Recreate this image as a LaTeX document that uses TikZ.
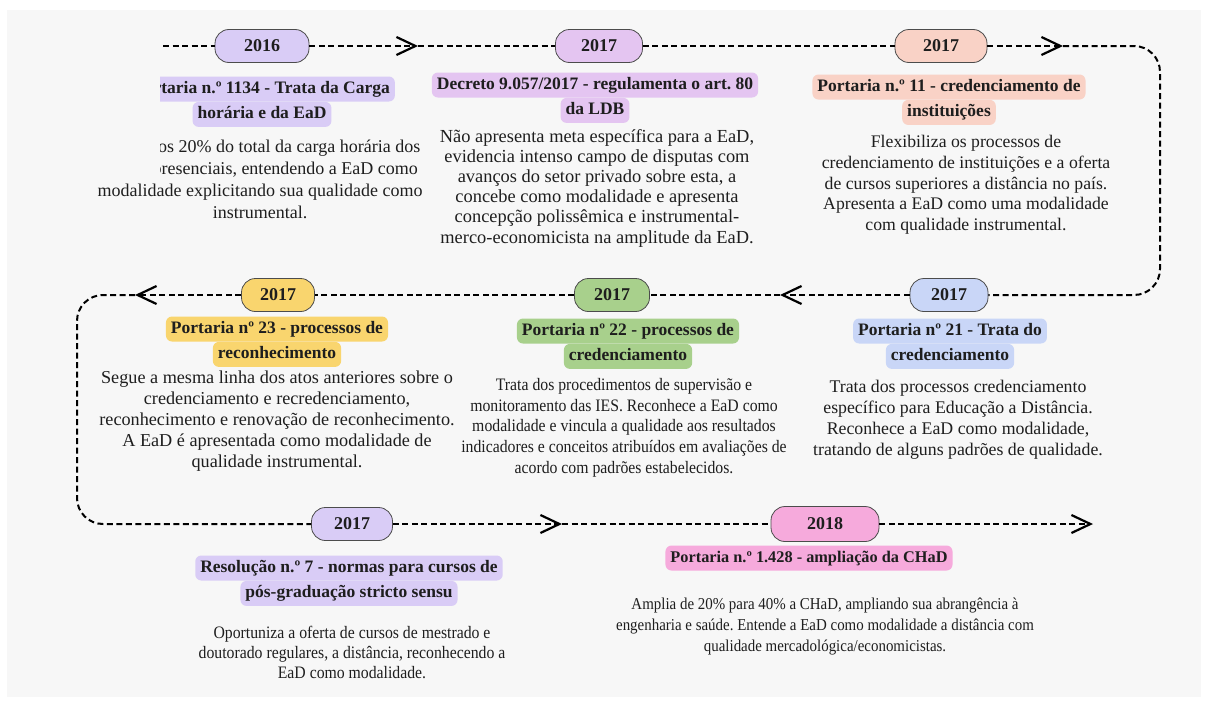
\documentclass[tikz,border=0pt]{standalone}
\usepackage{fontspec}
\setmainfont{Liberation Serif}
\newfontfamily\narrowserif[FakeStretch=0.9]{Liberation Serif}
\usepackage{tikz}
\usetikzlibrary{arrows.meta,positioning}
\frenchspacing

\definecolor{bggrey}{HTML}{F7F7F7}
\definecolor{lilac}{HTML}{D9CCF6}
\definecolor{orchid}{HTML}{E4C5F1}
\definecolor{peach}{HTML}{F9D2C6}
\definecolor{skyblue}{HTML}{C9D6F7}
\definecolor{leaf}{HTML}{A8D08C}
\definecolor{sun}{HTML}{F9D56E}
\definecolor{rose}{HTML}{F6AADC}
\definecolor{ink}{HTML}{1E1E1E}

\begin{document}
\begin{tikzpicture}[x=1pt, y=-1pt,
  flow/.style={line width=2pt, dash pattern=on 6pt off 3.5pt},
  chev/.style={-{Straight Barb[length=19pt,width=18pt,line width=2.2pt]}},
  pill/.style={draw=black!70, line width=0.8pt, rounded corners=14pt, minimum height=33pt,
    inner sep=0pt, font=\fontsize{18}{20}\selectfont\bfseries, text=ink},
  hilite/.style={rounded corners=6pt, inner xsep=5pt, inner ysep=4pt, text height=12.5pt,
    text depth=4.5pt, font=\fontsize{17.5}{20}\selectfont\bfseries, text=ink},
  body/.style={align=center, anchor=north, inner sep=0pt, text=ink}]
\useasboundingbox (0,0) rectangle (1207,704);
\fill[white] (0,0) rectangle (1207,704);
\fill[bggrey] (7,10) rectangle (1201,697);

% anos
\node[pill, fill=lilac, minimum width=94pt] (p1) at (262,46) {2016};
\node[pill, fill=orchid, minimum width=87pt] (p2) at (599,46) {2017};
\node[pill, fill=peach, minimum width=92pt] (p3) at (941,46) {2017};
\node[pill, fill=skyblue, minimum width=78pt] (p4) at (949,295) {2017};
\node[pill, fill=leaf, minimum width=75pt] (p5) at (612,295) {2017};
\node[pill, fill=sun, minimum width=73pt] (p6) at (278,295) {2017};
\node[pill, fill=lilac, minimum width=81pt] (p7) at (352,524) {2017};
\node[pill, fill=rose, minimum width=108pt, minimum height=35pt] (p8) at (825,524) {2018};

\coordinate (s0) at (163,46);
\coordinate (a1) at (418,46);
\coordinate (a2) at (1063,46);
\coordinate (ne) at (1160,46);
\coordinate (se) at (1160,295);
\coordinate (a3) at (780,295);
\coordinate (a4) at (135,295);
\coordinate (nw) at (77,295);
\coordinate (sw) at (77,524);
\coordinate (a5) at (562,524);
\coordinate (a6) at (1093,524);

\draw[flow] (s0) -- (p1);
\draw[flow, chev] (p1) -- (a1);
\draw[flow] (a1) -- (p2);
\draw[flow] (p2) -- (p3);
\draw[flow, chev] (p3) -- (a2);
\draw[flow, rounded corners=26pt] (a2) -- (ne) -- (se) -- (p4);
\draw[flow, chev] (p4) -- (a3);
\draw[flow] (a3) -- (p5);
\draw[flow] (p5) -- (p6);
\draw[flow, chev] (p6) -- (a4);
\draw[flow, rounded corners=26pt] (a4) -- (nw) -- (sw) -- (p7);
\draw[flow, chev] (p7) -- (a5);
\draw[flow] (a5) -- (p8);
\draw[flow, chev] (p8) -- (a6);

% 2016
\node[hilite, fill=lilac] (t1a) at (262,89) {Portaria n.º 1134 - Trata da Carga};
\node[hilite, fill=lilac, below=0pt of t1a] (t1b) {horária e da EaD};
\node[body, font=\fontsize{18}{22}\selectfont] (b1) at (260,140) {Amplia os 20\% do total da carga horária dos\\
  cursos presenciais, entendendo a EaD como\\modalidade explicitando sua qualidade como\\instrumental.};
\fill[bggrey] (7,10) rectangle (160,178);

% 2017 - decreto
\node[hilite, fill=orchid] (t2a) at (595,85) {Decreto 9.057/2017 - regulamenta o art. 80};
\node[hilite, fill=orchid, below=0pt of t2a] (t2b) {da LDB};
\node[body, font=\fontsize{18.4}{20.2}\selectfont] (b2) at (597,129) {Não apresenta meta específica para a EaD,\\
  evidencia intenso campo de disputas com\\avanços do setor privado sobre esta, a\\
  concebe como modalidade e apresenta\\concepção polissêmica e instrumental-\\
  merco-economicista na amplitude da EaD.};

% portaria 11
\node[hilite, fill=peach] (t3a) at (949,87) {Portaria n.º 11 - credenciamento de};
\node[hilite, fill=peach, below=0pt of t3a] (t3b) {instituições};
\node[body, font=\fontsize{17.7}{20.8}\selectfont] (b3) at (966,135) {Flexibiliza os processos de\\
  credenciamento de instituições e a oferta\\de cursos superiores a distância no país.\\
  Apresenta a EaD como uma modalidade\\com qualidade instrumental.};

% portaria 21
\node[hilite, fill=skyblue] (t4a) at (950,331) {Portaria nº 21 - Trata do};
\node[hilite, fill=skyblue, below=0pt of t4a] (t4b) {credenciamento};
\node[body, font=\fontsize{17.8}{21}\selectfont] (b4) at (958,380) {Trata dos processos credenciamento\\
  específico para Educação a Distância.\\Reconhece a EaD como modalidade,\\
  tratando de alguns padrões de qualidade.};

% portaria 22
\node[hilite, fill=leaf] (t5a) at (628,331) {Portaria nº 22 - processos de};
\node[hilite, fill=leaf, below=0pt of t5a] (t5b) {credenciamento};
\node[body, font=\narrowserif\fontsize{17.5}{20.8}\selectfont] (b5) at (624,378) {Trata dos procedimentos de supervisão e\\
  monitoramento das IES. Reconhece a EaD como\\modalidade e vincula a qualidade aos resultados\\
  indicadores e conceitos atribuídos em avaliações de\\acordo com padrões estabelecidos.};

% portaria 23
\node[hilite, fill=sun] (t6a) at (277,329) {Portaria nº 23 - processos de};
\node[hilite, fill=sun, below=0pt of t6a] (t6b) {reconhecimento};
\node[body, font=\fontsize{18.2}{21}\selectfont] (b6) at (277,371) {Segue a mesma linha dos atos anteriores sobre o\\
  credenciamento e recredenciamento,\\reconhecimento e renovação de reconhecimento.\\
  A EaD é apresentada como modalidade de\\qualidade instrumental.};

% resolucao 7
\node[hilite, fill=lilac] (t7a) at (349,568) {Resolução n.º 7 - normas para cursos de};
\node[hilite, fill=lilac, below=0pt of t7a] (t7b) {pós-graduação stricto sensu};
\node[body, font=\narrowserif\fontsize{17.5}{20}\selectfont] (b7) at (352,626) {Oportuniza a oferta de cursos de mestrado e\\
  doutorado regulares, a distância, reconhecendo a\\EaD como modalidade.};

% 2018
\node[hilite, fill=rose, font=\fontsize{16.3}{20}\selectfont\bfseries] (t8) at (809,558) {Portaria n.º 1.428 - ampliação da CHaD};
\node[body, font=\narrowserif\fontsize{16.6}{21}\selectfont] (b8) at (825,598) {Amplia de 20\% para 40\% a CHaD, ampliando sua abrangência à\\
  engenharia e saúde. Entende a EaD como modalidade a distância com\\qualidade mercadológica/economicistas.};
\end{tikzpicture}
\end{document}
